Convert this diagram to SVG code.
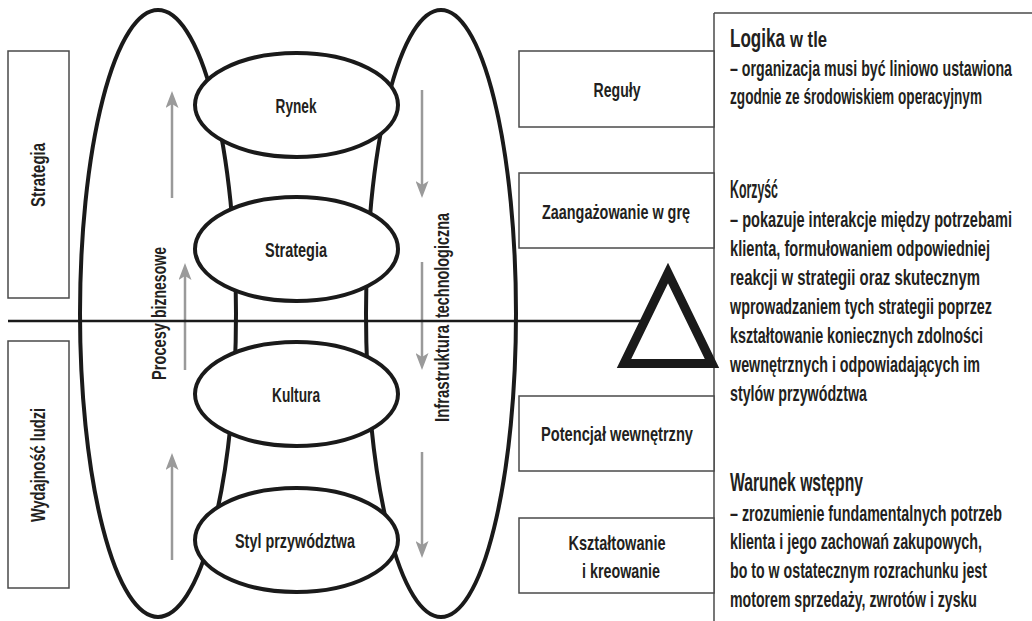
<svg xmlns="http://www.w3.org/2000/svg" width="1032" height="621" viewBox="0 0 1032 621">
<style>
text{font-family:"Liberation Sans",Arial,sans-serif;font-weight:bold;fill:#231f20}
.lbl{font-size:21px;text-anchor:middle}
.vl{font-size:21px}
.body{font-size:22px}
.head{font-size:25px}
.box{fill:#fff;stroke:#4a4a4a;stroke-width:1.5}
.big{fill:none;stroke:#1a1a1a;stroke-width:4}
.small{fill:#fff;stroke:#1a1a1a;stroke-width:4}
.arr{stroke:#9a9a9a;stroke-width:2.5;fill:none;marker-end:url(#ah)}
</style>
<defs>
<marker id="ah" markerUnits="userSpaceOnUse" viewBox="0 0 17 13" markerWidth="17" markerHeight="13" refX="4" refY="6.5" orient="auto"><path d="M0,0 L17,6.5 L0,13 L4,6.5 z" fill="#9a9a9a"/></marker>
</defs>
<rect width="1032" height="621" fill="#fff"/>

<g id="column-frame">
<line x1="714" y1="13" x2="714" y2="621" stroke="#4a4a4a" stroke-width="1.5"/>
<line x1="714" y1="13" x2="1032" y2="13" stroke="#4a4a4a" stroke-width="1.5"/>
</g>

<g id="procesy-biznesowe">
<ellipse class="big" cx="158" cy="313.5" rx="78" ry="303.5"/>
<text class="vl" transform="translate(166,380) rotate(-90) scale(0.62,1)"><tspan x="0" textLength="91.9" lengthAdjust="spacingAndGlyphs">Procesy</tspan> <tspan x="100" textLength="114.5" lengthAdjust="spacingAndGlyphs">biznesowe</tspan></text>
</g>
<g id="infrastruktura">
<ellipse class="big" cx="441" cy="313.5" rx="75" ry="303.5"/>
<text class="vl" transform="translate(449,422) rotate(-90) scale(0.62,1)"><tspan x="0" textLength="156.5" lengthAdjust="spacingAndGlyphs">Infrastruktura</tspan> <tspan x="167.7" textLength="169.4" lengthAdjust="spacingAndGlyphs">technologiczna</tspan></text>
</g>

<g id="rynek">
<ellipse class="small" cx="296.5" cy="105" rx="101.5" ry="52"/>
<text class="lbl" transform="translate(296,113) scale(0.62,1)" textLength="66" lengthAdjust="spacingAndGlyphs">Rynek</text>
</g>
<g id="strategia-node">
<ellipse class="small" cx="296.5" cy="249" rx="101.5" ry="52"/>
<text class="lbl" transform="translate(296,257) scale(0.62,1)" textLength="100" lengthAdjust="spacingAndGlyphs">Strategia</text>
</g>
<g id="kultura">
<ellipse class="small" cx="296.5" cy="394" rx="101.5" ry="52"/>
<text class="lbl" transform="translate(296,402) scale(0.62,1)" textLength="77.4" lengthAdjust="spacingAndGlyphs">Kultura</text>
</g>
<g id="styl">
<ellipse class="small" cx="296.5" cy="540" rx="101.5" ry="52"/>
<text class="lbl" transform="translate(295,548) scale(0.62,1)" textLength="193.5" lengthAdjust="spacingAndGlyphs">Styl przywództwa</text>
</g>

<g id="connectors">
<line class="arr" x1="172" y1="198" x2="172" y2="104"/>
<line class="arr" x1="185" y1="370" x2="185" y2="276"/>
<line class="arr" x1="172" y1="560" x2="172" y2="466"/>
<line class="arr" x1="422" y1="90" x2="422" y2="185"/>
<line class="arr" x1="422" y1="262" x2="422" y2="357"/>
<line class="arr" x1="422" y1="452" x2="422" y2="545"/>
<line x1="8" y1="321" x2="650" y2="321" stroke="#1a1a1a" stroke-width="2.5"/>
</g>

<g id="box-strategia">
<rect class="box" x="8" y="51" width="61" height="247"/>
<text class="lbl" transform="translate(45,175) rotate(-90) scale(0.62,1)" textLength="103.2" lengthAdjust="spacingAndGlyphs">Strategia</text>
</g>
<g id="box-wydajnosc">
<rect class="box" x="8" y="341" width="61" height="247"/>
<text class="lbl" transform="translate(45,465) rotate(-90) scale(0.62,1)" textLength="183.9" lengthAdjust="spacingAndGlyphs">Wydajność ludzi</text>
</g>

<g id="box-reguly">
<rect class="box" x="519" y="51" width="195" height="76"/>
<text class="lbl" transform="translate(617,97) scale(0.62,1)" textLength="75.8" lengthAdjust="spacingAndGlyphs">Reguły</text>
</g>
<g id="box-zaangazowanie">
<rect class="box" x="519" y="173" width="195" height="75"/>
<text class="lbl" transform="translate(616,219) scale(0.62,1)" textLength="238.7" lengthAdjust="spacingAndGlyphs">Zaangażowanie w grę</text>
</g>
<g id="box-potencjal">
<rect class="box" x="519" y="396" width="195" height="75"/>
<text class="lbl" transform="translate(617,441) scale(0.62,1)" textLength="245.2" lengthAdjust="spacingAndGlyphs">Potencjał wewnętrzny</text>
</g>
<g id="box-ksztaltowanie">
<rect class="box" x="519" y="518" width="195" height="75"/>
<text class="lbl" transform="translate(617,550) scale(0.62,1)" textLength="156.5" lengthAdjust="spacingAndGlyphs">Kształtowanie</text>
<text class="lbl" transform="translate(621,578) scale(0.62,1)" textLength="125.8" lengthAdjust="spacingAndGlyphs">i kreowanie</text>
</g>

<g id="triangle">
<polygon points="668,273 624,363.5 712,363.5" fill="#fff" stroke="#1a1a1a" stroke-width="9" stroke-linejoin="miter" stroke-miterlimit="10"/>
</g>

<g id="text-logika">
<text transform="translate(730,47) scale(0.62,1)"><tspan class="head" x="0" textLength="88.7" lengthAdjust="spacingAndGlyphs">Logika</tspan><tspan class="body" x="96.8" textLength="59.7" lengthAdjust="spacingAndGlyphs">w tle</tspan></text>
<text class="body" transform="translate(730,76) scale(0.62,1)" textLength="454.8" lengthAdjust="spacingAndGlyphs">– organizacja musi być liniowo ustawiona</text>
<text class="body" transform="translate(730,104) scale(0.62,1)" textLength="406.5" lengthAdjust="spacingAndGlyphs">zgodnie ze środowiskiem operacyjnym</text>
</g>
<g id="text-korzysc">
<text class="head" transform="translate(730,198) scale(0.62,1)" textLength="77.4" lengthAdjust="spacingAndGlyphs">Korzyść</text>
<text class="body" transform="translate(730,227) scale(0.62,1)" textLength="454.8" lengthAdjust="spacingAndGlyphs">– pokazuje interakcje między potrzebami</text>
<text class="body" transform="translate(730,256) scale(0.62,1)" textLength="419.4" lengthAdjust="spacingAndGlyphs">klienta, formułowaniem odpowiedniej</text>
<text class="body" transform="translate(730,285) scale(0.62,1)" textLength="403.2" lengthAdjust="spacingAndGlyphs">reakcji w strategii oraz skutecznym</text>
<text class="body" transform="translate(730,314) scale(0.62,1)" textLength="422.6" lengthAdjust="spacingAndGlyphs">wprowadzaniem tych strategii poprzez</text>
<text class="body" transform="translate(730,343) scale(0.62,1)" textLength="408.1" lengthAdjust="spacingAndGlyphs">kształtowanie koniecznych zdolności</text>
<text class="body" transform="translate(730,372) scale(0.62,1)" textLength="403.2" lengthAdjust="spacingAndGlyphs">wewnętrznych i odpowiadających im</text>
<text class="body" transform="translate(730,401) scale(0.62,1)" textLength="221" lengthAdjust="spacingAndGlyphs">stylów przywództwa</text>
</g>
<g id="text-warunek">
<text class="head" transform="translate(730,491) scale(0.62,1)" textLength="214.5" lengthAdjust="spacingAndGlyphs">Warunek wstępny</text>
<text class="body" transform="translate(730,521) scale(0.62,1)" textLength="438.7" lengthAdjust="spacingAndGlyphs">– zrozumienie fundamentalnych potrzeb</text>
<text class="body" transform="translate(730,549) scale(0.62,1)" textLength="406.5" lengthAdjust="spacingAndGlyphs">klienta i jego zachowań zakupowych,</text>
<text class="body" transform="translate(730,578) scale(0.62,1)" textLength="414.5" lengthAdjust="spacingAndGlyphs">bo to w ostatecznym rozrachunku jest</text>
<text class="body" transform="translate(730,607) scale(0.62,1)" textLength="398.4" lengthAdjust="spacingAndGlyphs">motorem sprzedaży, zwrotów i zysku</text>
</g>
</svg>
